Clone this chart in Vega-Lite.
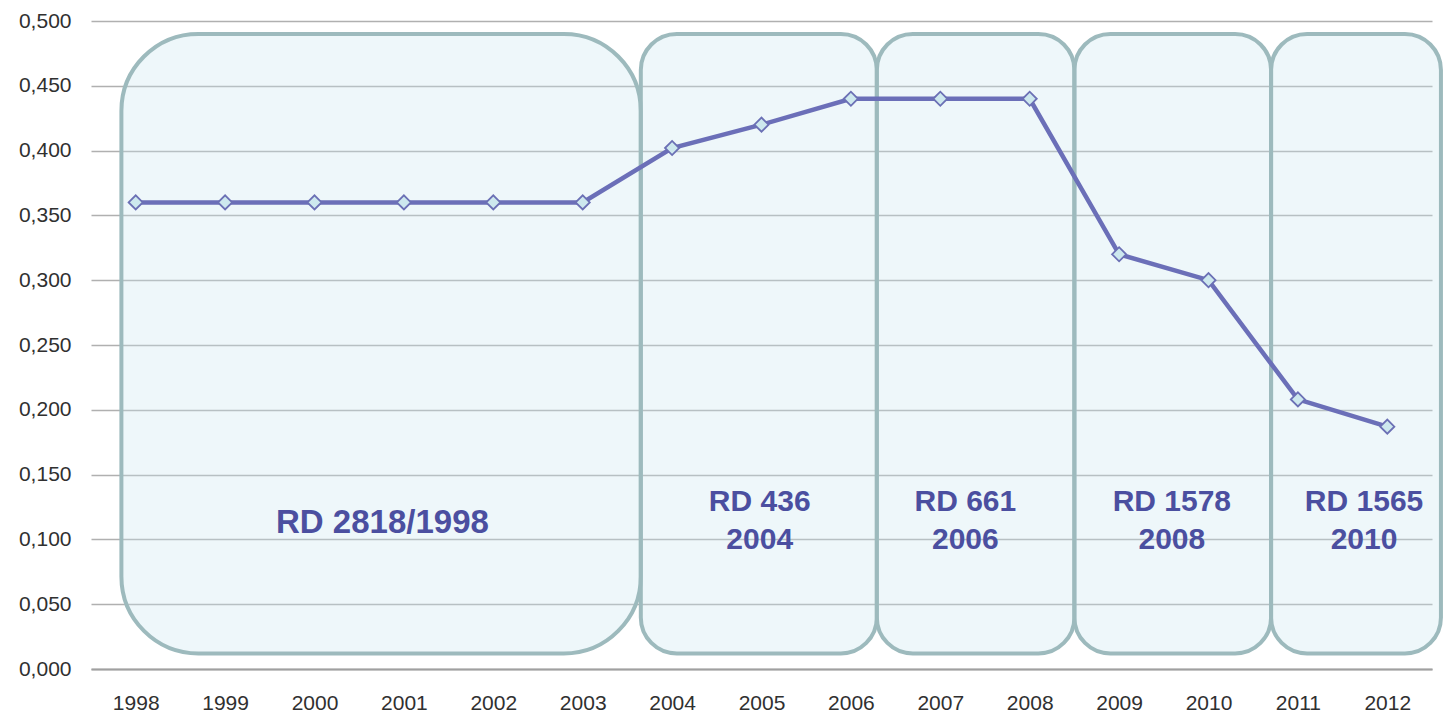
{
  "$schema": "https://vega.github.io/schema/vega-lite/v6.json",
  "width": 1341,
  "height": 648,
  "autosize": "none",
  "padding": {"left": 91, "top": 21, "right": 12, "bottom": 46},
  "background": "white",
  "config": {
    "view": {"stroke": null},
    "font": "Liberation Sans"
  },
  "datasets": {
    "series": [
      {"year": 1998, "value": 0.36},
      {"year": 1999, "value": 0.36},
      {"year": 2000, "value": 0.36},
      {"year": 2001, "value": 0.36},
      {"year": 2002, "value": 0.36},
      {"year": 2003, "value": 0.36},
      {"year": 2004, "value": 0.402},
      {"year": 2005, "value": 0.42},
      {"year": 2006, "value": 0.44},
      {"year": 2007, "value": 0.44},
      {"year": 2008, "value": 0.44},
      {"year": 2009, "value": 0.32},
      {"year": 2010, "value": 0.3},
      {"year": 2011, "value": 0.208},
      {"year": 2012, "value": 0.187}
    ],
    "periods": [
      {"label": "RD 2818/1998", "start": 1997.84, "end": 2003.65, "low": 0.012, "high": 0.49, "mid": 2000.76, "big": true},
      {"label": "RD 436\n2004", "start": 2003.65, "end": 2006.29, "low": 0.012, "high": 0.49, "mid": 2004.98, "big": false},
      {"label": "RD 661\n2006", "start": 2006.29, "end": 2008.5, "low": 0.012, "high": 0.49, "mid": 2007.28, "big": false},
      {"label": "RD 1578\n2008", "start": 2008.5, "end": 2010.7, "low": 0.012, "high": 0.49, "mid": 2009.59, "big": false},
      {"label": "RD 1565\n2010", "start": 2010.7, "end": 2012.6, "low": 0.012, "high": 0.49, "mid": 2011.74, "big": false}
    ]
  },
  "layer": [
    {
      "data": {"name": "periods"},
      "transform": [{"filter": "datum.big"}],
      "mark": {"type": "rect", "cornerRadius": 77, "fill": "#c8e6ef", "fillOpacity": 0.3, "stroke": "#9dbabd", "strokeWidth": 4},
      "encoding": {
        "x": {"field": "start", "type": "quantitative", "scale": {"domain": [1997.5, 2012.5], "nice": false, "zero": false},
          "axis": {"values": [1998,1999,2000,2001,2002,2003,2004,2005,2006,2007,2008,2009,2010,2011,2012], "format": "d", "title": null, "grid": false, "ticks": false, "domainColor": "#a0a0a0", "domainWidth": 2, "labelFont": "Liberation Sans", "labelFontSize": 21, "labelColor": "#303030", "labelPadding": 23}},
        "x2": {"field": "end"},
        "y": {"field": "low", "type": "quantitative", "scale": {"domain": [0, 0.5], "nice": false},
          "axis": {"values": [0,0.05,0.1,0.15,0.2,0.25,0.3,0.35,0.4,0.45,0.5], "labelExpr": "replace(format(datum.value, '.3f'), '.', ',')", "title": null, "domain": false, "ticks": false, "gridColor": "#b0b0b0", "gridWidth": 1.5, "labelFont": "Liberation Sans", "labelFontSize": 21, "labelColor": "#303030", "labelPadding": 20}},
        "y2": {"field": "high"}
      }
    },
    {
      "data": {"name": "periods"},
      "transform": [{"filter": "!datum.big"}],
      "mark": {"type": "rect", "cornerRadius": 36, "fill": "#c8e6ef", "fillOpacity": 0.3, "stroke": "#9dbabd", "strokeWidth": 4},
      "encoding": {
        "x": {"field": "start", "type": "quantitative"},
        "x2": {"field": "end"},
        "y": {"field": "low", "type": "quantitative"},
        "y2": {"field": "high"}
      }
    },
    {
      "data": {"name": "series"},
      "mark": {"type": "line", "color": "#6b6fb8", "strokeWidth": 4.5},
      "encoding": {
        "x": {"field": "year", "type": "quantitative"},
        "y": {"field": "value", "type": "quantitative"}
      }
    },
    {
      "data": {"name": "series"},
      "mark": {"type": "point", "shape": "diamond", "size": 200, "filled": true, "fill": "#cde8ee", "stroke": "#6b70b5", "strokeWidth": 1.8, "opacity": 1},
      "encoding": {
        "x": {"field": "year", "type": "quantitative"},
        "y": {"field": "value", "type": "quantitative"}
      }
    },
    {
      "data": {"name": "periods"},
      "transform": [{"filter": "datum.big"}],
      "mark": {"type": "text", "font": "Liberation Sans", "fontWeight": "bold", "fontSize": 33, "color": "#4b4fa0", "align": "center", "baseline": "middle"},
      "encoding": {
        "x": {"field": "mid", "type": "quantitative"},
        "y": {"datum": 0.113, "type": "quantitative"},
        "text": {"field": "label"}
      }
    },
    {
      "data": {"name": "periods"},
      "transform": [{"filter": "!datum.big"}],
      "mark": {"type": "text", "font": "Liberation Sans", "fontWeight": "bold", "fontSize": 30, "color": "#4b4fa0", "align": "center", "baseline": "middle", "lineBreak": "\n", "lineHeight": 38},
      "encoding": {
        "x": {"field": "mid", "type": "quantitative"},
        "y": {"datum": 0.129, "type": "quantitative"},
        "text": {"field": "label"}
      }
    }
  ]
}
